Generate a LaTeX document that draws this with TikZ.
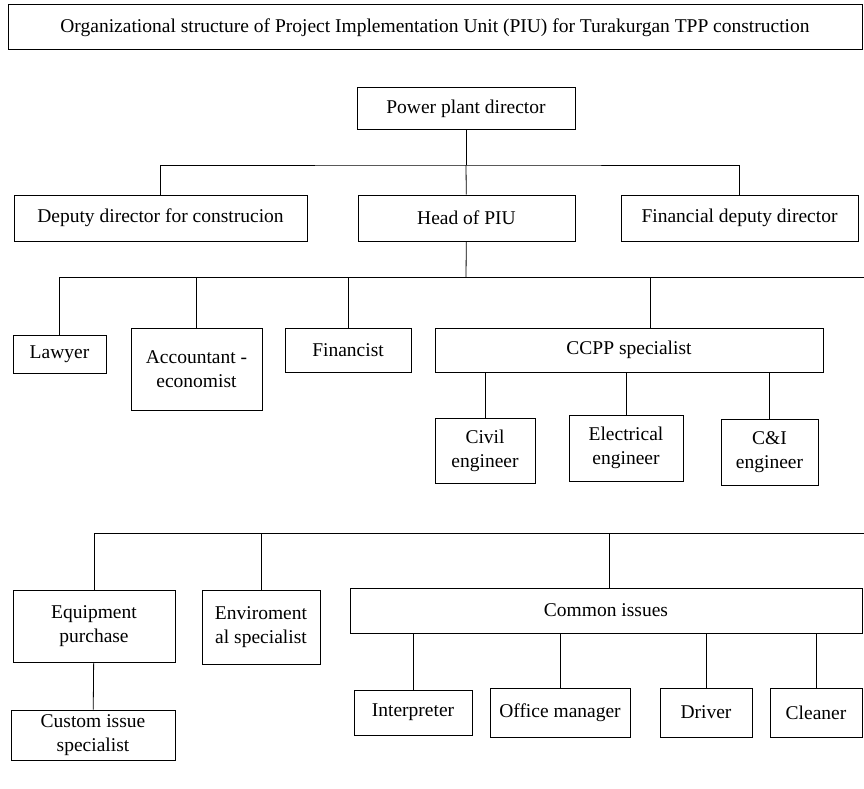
\documentclass[tikz,border=0pt]{standalone}
\usepackage{fontspec}
\setmainfont{Liberation Serif}
\usetikzlibrary{calc}

\tikzset{box/.style={draw,line width=1pt,inner sep=0pt,align=center,font=\fontsize{19.5}{24}\selectfont},
  every path/.style={line width=0.8pt}}

\begin{document}
\begin{tikzpicture}[x=1pt,y=-1pt]
\useasboundingbox (0,0) rectangle (864,789);
% title
\node[box,minimum width=854,minimum height=45] (title) at (435,27.5) {Organizational structure of Project Implementation Unit (PIU) for Turakurgan TPP construction};
% top levels
\node[box,minimum width=218,minimum height=42] (ppd) at (466,109) {Power plant director};
\node[box,minimum width=293,minimum height=46] (dep) at (160.5,218) {Deputy director for construcion};
\node[box,minimum width=217,minimum height=46] (head) at (466.5,218) {Head of PIU};
\node[box,minimum width=237,minimum height=46] (fin) at (739.5,218) {Financial deputy director};
% PIU staff
\node[box,minimum width=93,minimum height=38] (law) at (59.5,354) {Lawyer};
\node[box,minimum width=131,minimum height=82] (acc) at (196.5,369) {Accountant -\\economist};
\node[box,minimum width=126,minimum height=44] (finc) at (348,350) {Financist};
\node[box,minimum width=388,minimum height=44] (ccpp) at (629,350) {CCPP specialist};
\node[box,minimum width=100,minimum height=65] (civ) at (485,450.5) {Civil\\engineer};
\node[box,minimum width=114,minimum height=66] (ele) at (626,448) {Electrical\\engineer};
\node[box,minimum width=97,minimum height=66] (ci) at (769.5,452) {C\&I\\engineer};
% lower group
\node[box,minimum width=162,minimum height=72] (equ) at (94,626) {Equipment\\purchase};
\node[box,minimum width=118,minimum height=74] (env) at (261,627) {Enviroment\\al specialist};
\node[box,minimum width=512,minimum height=45] (com) at (606,610.5) {Common issues};
\node[box,minimum width=164,minimum height=50] (cus) at (93,735) {Custom issue\\specialist};
\node[box,minimum width=118,minimum height=45] (int) at (413,712.5) {Interpreter};
\node[box,minimum width=140,minimum height=49] (off) at (560,712.5) {Office manager};
\node[box,minimum width=92,minimum height=49] (drv) at (706,712.5) {Driver};
\node[box,minimum width=92,minimum height=49] (cln) at (816,712.5) {Cleaner};

% connectors
\coordinate (bus1) at (466,165);
\coordinate (bus2) at (466,277);
\coordinate (bus2e) at (864,277);
\coordinate (bus2c) at (650,277);
\coordinate (bus3) at (94,533);
\coordinate (bus3e) at (864,533);
\coordinate (bus3c) at (609,533);
\draw (ppd) -- (bus1);
\draw (dep.north) |- (bus1) -| (fin.north);
\draw (bus1) -- (head);
\draw (head) -- (bus2);
\draw (law.north) |- (bus2e);
\draw (acc.north) -- (acc.north |- bus2);
\draw (finc.north) -- (finc.north |- bus2);
\draw (bus2c) -- (bus2c |- ccpp.north);
\foreach \n in {civ,ele,ci} \draw (\n.north) -- (\n.north |- ccpp.south);
\draw (equ.north) |- (bus3e);
\draw (env.north) -- (env.north |- bus3);
\draw (bus3c) -- (bus3c |- com.north);
\draw (equ) -- (cus);
\foreach \n in {int,off,drv,cln} \draw (\n.north) -- (\n.north |- com.south);
\end{tikzpicture}
\end{document}
